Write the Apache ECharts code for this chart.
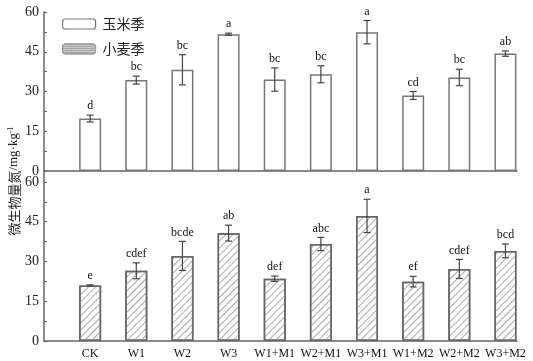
<!DOCTYPE html>
<html>
<head>
<meta charset="utf-8">
<script src="https://cdn.jsdelivr.net/npm/echarts@6/dist/echarts.min.js"></script>
<style>html,body{margin:0;padding:0;background:#fff;}#c{width:533px;height:361px;}</style>
</head>
<body>
<div id="c"></div>
<script>
const categories = ['CK','W1','W2','W3','W1+M1','W2+M1','W3+M1','W1+M2','W2+M2','W3+M2'];
const maizeMean = [19.8, 34.3, 38.2, 51.6, 34.5, 36.5, 52.4, 28.5, 35.3, 44.3];
const maizeErr = [1.3, 1.5, 5.7, 0.4, 4.4, 3.2, 4.4, 1.5, 3.1, 1.0];
const maizeLetters = ['d','bc','bc','a','bc','bc','a','cd','bc','ab'];
const wheatMean = [20.9, 26.5, 32.1, 40.7, 23.5, 36.6, 47.2, 22.4, 27.2, 34.0];
const wheatErr = [0.3, 3.0, 5.5, 3.0, 1.0, 2.5, 6.3, 2.0, 3.6, 2.6];
const wheatLetters = ['e','cdef','bcde','ab','def','abc','a','ef','cdef','bcd'];
const yTickLabels = [0, 15, 30, 45, 60];
const yTickMarks = [0, 7.5, 15, 22.5, 30, 37.5, 45, 52.5, 60];
const seriesNames = ['玉米季', '小麦季'];

const AX = '#666';
const serif = '"Liberation Serif", "DejaVu Serif", serif';

function errSeries(mean, err, letters, idx) {
  return {
    type: 'custom', xAxisIndex: idx, yAxisIndex: idx, clip: false, silent: true, z: 5,
    data: mean.map((m, i) => [i, m, err[i]]),
    renderItem: function (params, api) {
      const i = api.value(0), m = api.value(1), e = api.value(2);
      const t = api.coord([i, m + e]);
      const b = api.coord([i, m - e]);
      const c = 3.5;
      const st = {stroke: '#444', lineWidth: 1.2};
      return {type: 'group', children: [
        {type: 'line', shape: {x1: t[0], y1: t[1], x2: b[0], y2: b[1]}, style: st},
        {type: 'line', shape: {x1: t[0]-c, y1: t[1], x2: t[0]+c, y2: t[1]}, style: st},
        {type: 'line', shape: {x1: b[0]-c, y1: b[1], x2: b[0]+c, y2: b[1]}, style: st},
        {type: 'text', x: t[0], y: t[1] - 3, style: {text: letters[params.dataIndex], align: 'center', verticalAlign: 'bottom', font: '12px ' + serif, fill: '#111'}}
      ]};
    }
  };
}

function xAxis(idx, showLabel) {
  return {
    type: 'value', gridIndex: idx, min: -1, max: 9.25, interval: 1,
    axisLine: {show: true, onZero: false, lineStyle: {color: AX, width: 1.5}},
    axisTick: {show: false}, splitLine: {show: false},
    axisLabel: {show: showLabel, margin: 7, color: '#111', fontSize: 12, fontFamily: serif,
      formatter: v => (Number.isInteger(v) && v >= 0 && v < categories.length) ? categories[v] : '',
      showMinLabel: true, showMaxLabel: true}
  };
}
function yAxis(idx, max) {
  return {
    type: 'value', gridIndex: idx, min: 0, max: max, interval: 15,
    axisLine: {show: true, onZero: false, lineStyle: {color: AX, width: 1.5}},
    axisTick: {show: true, inside: true, length: 3, customValues: yTickMarks, lineStyle: {color: AX, width: 1.2}},
    splitLine: {show: false},
    axisLabel: {customValues: yTickLabels, margin: 5, color: '#222', fontSize: 14, fontFamily: serif}
  };
}

const chart = echarts.init(document.getElementById('c'), null, {renderer: 'canvas'});
chart.setOption({
  animation: false,
  backgroundColor: '#fff',
  grid: [
    {left: 44, right: 16, top: 12, height: 159},
    {left: 44, right: 16, top: 171, height: 170}
  ],
  xAxis: [xAxis(0, false), xAxis(1, true)],
  yAxis: [yAxis(0, 60), yAxis(1, 64.15)],
  legend: {
    orient: 'vertical', left: 57, top: 12, itemWidth: 33, itemHeight: 10, itemGap: 11,
    textStyle: {fontSize: 14, color: '#222', fontFamily: '"Noto Sans CJK SC"', padding: [0, 0, 0, 2]},
    data: [
      {name: seriesNames[0], itemStyle: {color: '#fff', borderColor: '#777', borderWidth: 1.2}},
      {name: seriesNames[1], itemStyle: {color: '#c8c8c8', borderColor: '#999', borderWidth: 1,
        decal: {symbol: 'rect', symbolSize: 1, dashArrayX: [1, 1], dashArrayY: [1, 1], color: '#888'}}}
    ]
  },
  graphic: [{
    type: 'text', rotation: Math.PI / 2, x: 14, y: 181,
    style: {rich: {
        n: {fontSize: 13, fontFamily: '"Noto Sans CJK SC"', fill: '#222'},
        m: {fontSize: 13, fontFamily: serif, fill: '#222'},
        s: {fontSize: 8, fontFamily: serif, fill: '#222', verticalAlign: 'top', padding: [0,0,6,0]}},
      text: '{n|微生物量氮}{m|/mg·kg}{s|-1}', fill: '#222', align: 'center', verticalAlign: 'middle'}
  }],
  series: [
    {name: seriesNames[0], type: 'bar', xAxisIndex: 0, yAxisIndex: 0, barWidth: 22,
      data: maizeMean.map((v, i) => [i, v]),
      itemStyle: {color: '#fff', borderColor: '#777', borderWidth: 1.5}},
    {name: seriesNames[1], type: 'bar', xAxisIndex: 1, yAxisIndex: 1, barWidth: 22,
      data: wheatMean.map((v, i) => [i, v]),
      itemStyle: {color: '#fff', borderColor: '#666', borderWidth: 1.5,
        decal: {symbol: 'rect', symbolSize: 1, dashArrayX: [1, 0], dashArrayY: [1, 4], rotation: -Math.PI / 4, color: '#aaa'}}},
    errSeries(maizeMean, maizeErr, maizeLetters, 0),
    errSeries(wheatMean, wheatErr, wheatLetters, 1)
  ]
});
</script>
</body>
</html>
